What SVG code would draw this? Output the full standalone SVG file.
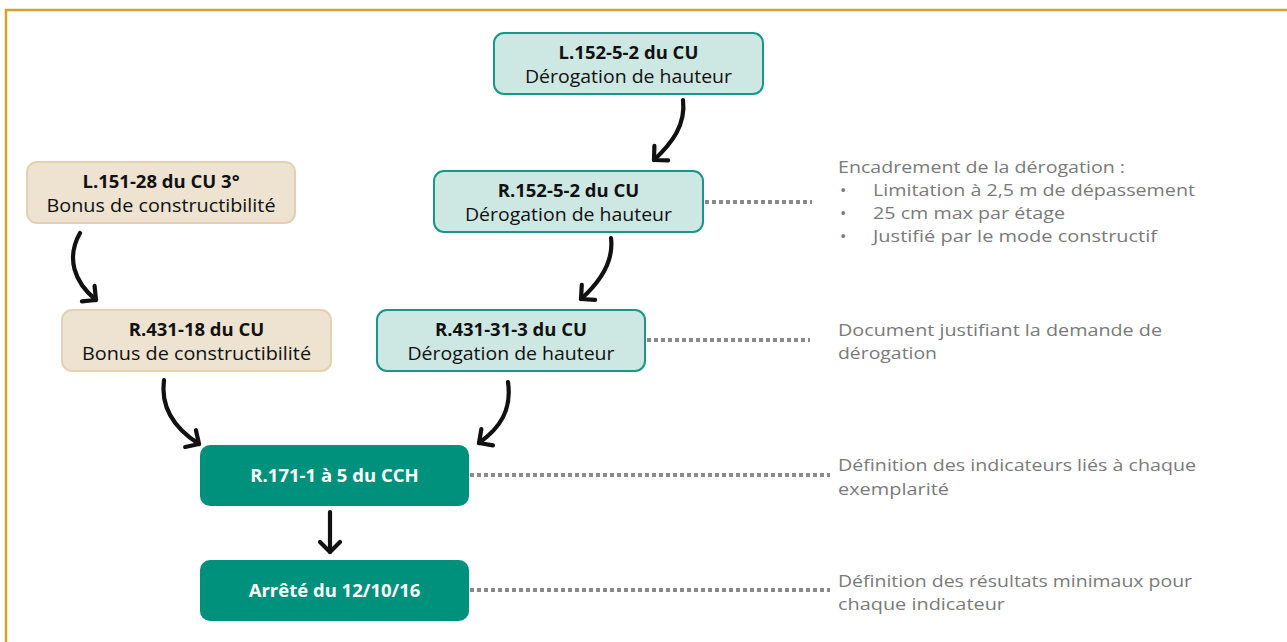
<svg xmlns="http://www.w3.org/2000/svg" width="1287" height="642" viewBox="0 0 1287 642">
<style>
text{font-family:"Open Sans","Liberation Sans",sans-serif;}
.lt{fill:#cde8e3;stroke:#1a9686;stroke-width:2;}
.bg{fill:#ede3d0;stroke:#e2d2b1;stroke-width:2;}
.dk{fill:#00917d;}
.t{font-size:18.5px;font-weight:bold;fill:#111;text-anchor:middle;}
.s{font-size:18px;fill:#111;text-anchor:middle;}
.w{font-size:18.5px;font-weight:bold;fill:#fff;text-anchor:middle;}
.g{font-size:16.8px;fill:#7a7a7a;}
.dot{stroke:#8a8a8a;stroke-width:4;stroke-dasharray:4 3;fill:none;}
.arr{stroke:#111;stroke-width:4.2;fill:none;stroke-linecap:round;marker-end:url(#head);}
</style>
<defs>
<marker id="head" markerUnits="userSpaceOnUse" viewBox="-15 -15 30 30" markerWidth="30" markerHeight="30" refX="0" refY="0" orient="auto">
<path d="M-10,-10 L0,0 L-10,10" fill="none" stroke="#111" stroke-width="4.2" stroke-linecap="round" stroke-linejoin="round"/>
</marker>
</defs>
<rect x="6" y="10" width="1400" height="800" fill="#fff" stroke="#d4a22c" stroke-width="2.5"/>

<g id="connectors">
<path class="arr" d="M683,100 C686,125 672,143 654,160"/>
<path class="arr" d="M611,238 C614,262 600,282 581,299"/>
<path class="arr" d="M80,233 C66,258 74,282 96,300"/>
<path class="arr" d="M164,380 C160,410 177,430 199,444"/>
<path class="arr" d="M508,382 C512,410 500,428 479,443"/>
<path class="arr" d="M330,512 L330,552"/>
<path class="dot" d="M705,202 H812"/>
<path class="dot" d="M647,340 H810"/>
<path class="dot" d="M470,475 H830"/>
<path class="dot" d="M470,590 H830"/>
</g>

<g id="n-l152">
<rect class="lt" x="494" y="33" width="269" height="61" rx="10"/>
<text class="t" x="628.5" y="58.5">L.152-5-2 du CU</text>
<text class="s" x="628.5" y="83" textLength="207" lengthAdjust="spacingAndGlyphs">Dérogation de hauteur</text>
</g>
<g id="n-r152">
<rect class="lt" x="434" y="171" width="269" height="61" rx="10"/>
<text class="t" x="568.5" y="196.5">R.152-5-2 du CU</text>
<text class="s" x="568.5" y="221" textLength="207" lengthAdjust="spacingAndGlyphs">Dérogation de hauteur</text>
</g>
<g id="n-l151">
<rect class="bg" x="27" y="162" width="268" height="61" rx="10"/>
<text class="t" x="161" y="187.5">L.151-28 du CU 3°</text>
<text class="s" x="161" y="212" textLength="229" lengthAdjust="spacingAndGlyphs">Bonus de constructibilité</text>
</g>
<g id="n-r431-18">
<rect class="bg" x="62" y="310" width="269" height="61" rx="10"/>
<text class="t" x="196.5" y="335.5">R.431-18 du CU</text>
<text class="s" x="196.5" y="360" textLength="229" lengthAdjust="spacingAndGlyphs">Bonus de constructibilité</text>
</g>
<g id="n-r431-31">
<rect class="lt" x="377" y="310" width="268" height="61" rx="10"/>
<text class="t" x="511" y="335.5">R.431-31-3 du CU</text>
<text class="s" x="511" y="360" textLength="207" lengthAdjust="spacingAndGlyphs">Dérogation de hauteur</text>
</g>
<g id="n-r171">
<rect class="dk" x="200" y="445" width="269" height="61" rx="10"/>
<text class="w" x="334.5" y="482">R.171-1 à 5 du CCH</text>
</g>
<g id="n-arrete">
<rect class="dk" x="200" y="560" width="269" height="61" rx="10"/>
<text class="w" x="334.5" y="597">Arrêté du 12/10/16</text>
</g>

<g id="notes">
<text class="g" x="838" y="173" textLength="287" lengthAdjust="spacingAndGlyphs">Encadrement de la dérogation :</text>
<text class="g" x="840" y="196">•</text>
<text class="g" x="873" y="196" textLength="322" lengthAdjust="spacingAndGlyphs">Limitation à 2,5 m de dépassement</text>
<text class="g" x="840" y="219">•</text>
<text class="g" x="873" y="219" textLength="192" lengthAdjust="spacingAndGlyphs">25 cm max par étage</text>
<text class="g" x="840" y="242">•</text>
<text class="g" x="873" y="242" textLength="284" lengthAdjust="spacingAndGlyphs">Justifié par le mode constructif</text>
<text class="g" x="838" y="336" textLength="324" lengthAdjust="spacingAndGlyphs">Document justifiant la demande de</text>
<text class="g" x="838" y="359" textLength="99" lengthAdjust="spacingAndGlyphs">dérogation</text>
<text class="g" x="838" y="471" textLength="358" lengthAdjust="spacingAndGlyphs">Définition des indicateurs liés à chaque</text>
<text class="g" x="838" y="495" textLength="111" lengthAdjust="spacingAndGlyphs">exemplarité</text>
<text class="g" x="838" y="587" textLength="354" lengthAdjust="spacingAndGlyphs">Définition des résultats minimaux pour</text>
<text class="g" x="838" y="610" textLength="167" lengthAdjust="spacingAndGlyphs">chaque indicateur</text>
</g>
</svg>
